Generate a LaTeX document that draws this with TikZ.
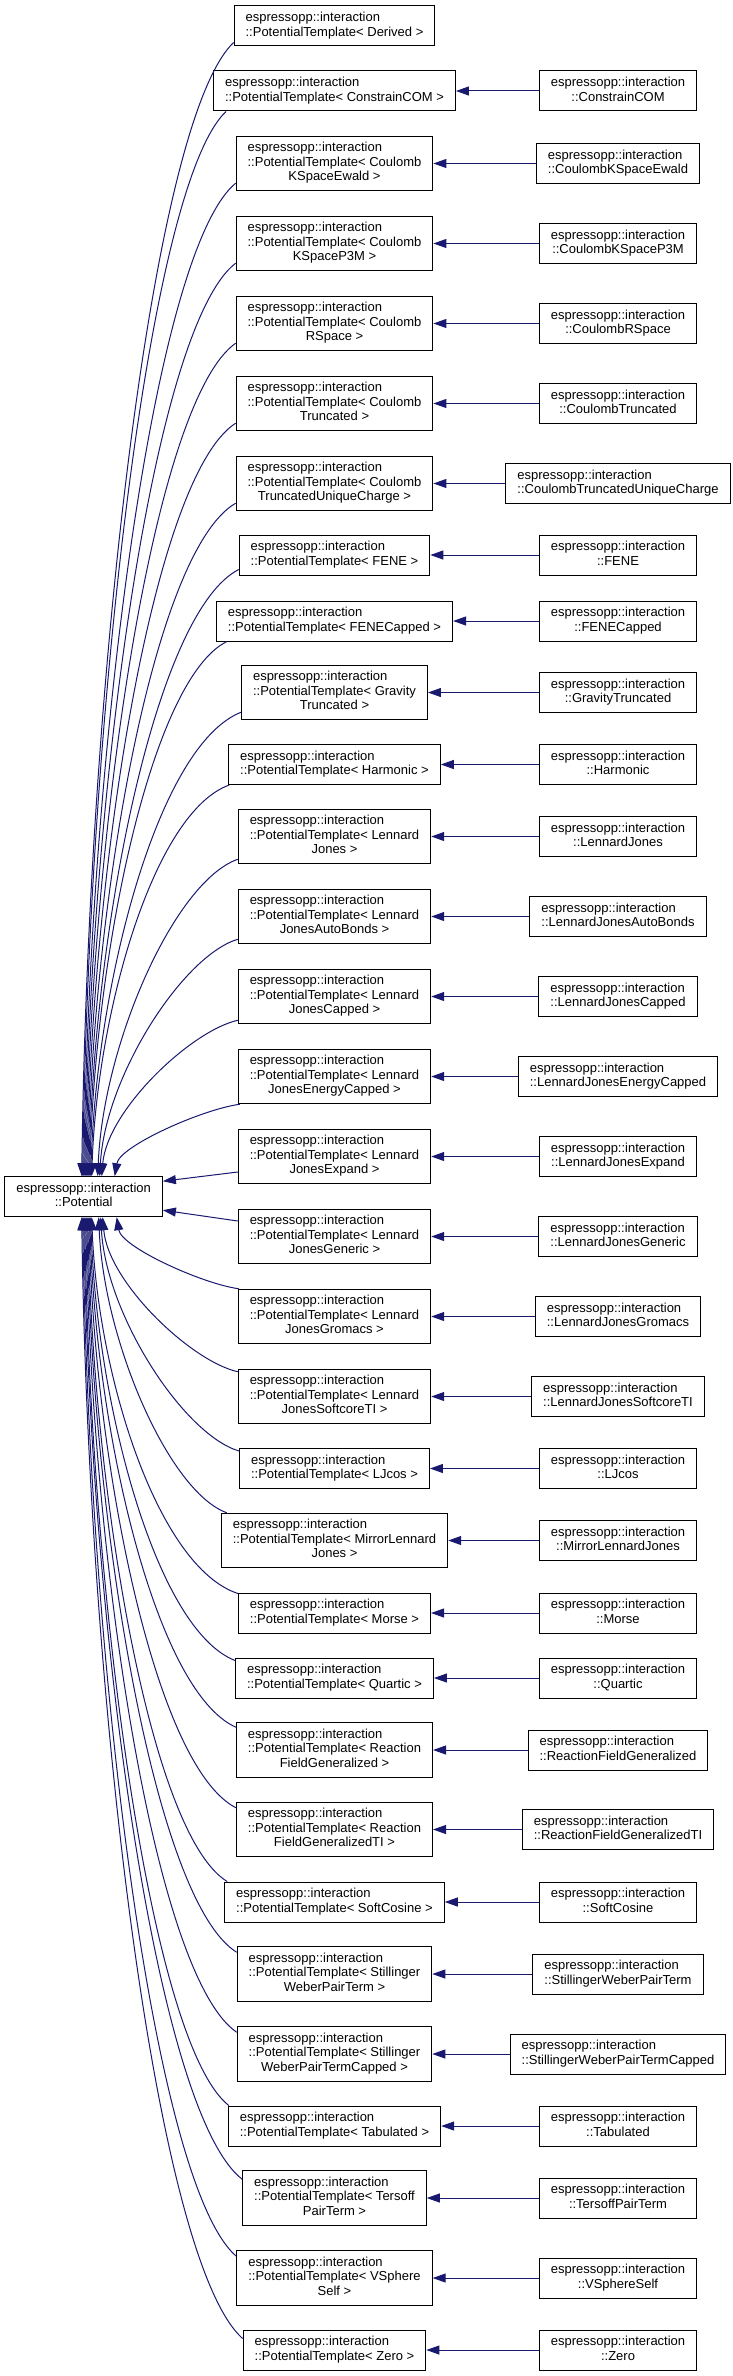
\documentclass[tikz,border=0pt]{standalone}
\usepackage{fontspec}
\setmainfont{Liberation Sans}
\usetikzlibrary{arrows.meta, calc}
\definecolor{edgec}{HTML}{191970}
\newcommand{\lastc}[1]{\multicolumn{1}{@{}c@{}}{#1}}
\newcommand{\tpl}[2]{\begin{tabular}{@{}l@{}}espressopp::interaction\\::PotentialTemplate< #1\\\lastc{#2 >}\end{tabular}}
\newcommand{\tpll}[1]{\begin{tabular}{@{}l@{}}espressopp::interaction\\::PotentialTemplate< #1 >\end{tabular}}
\newcommand{\clsname}[1]{\begin{tabular}{@{}l@{}}espressopp::interaction\\\lastc{::#1}\end{tabular}}
% curved inheritance edge: #2 start on the template box, #3 tip on the base box
\newcommand{\inh}[3][0.55]{\draw[inh] let \p1=(#2), \p2=(#3) in (\p1) .. controls ({\x1+#1*(\x2-\x1)},{\y1+0.07*(\y2-\y1)}) and ({\x2+0.04*(\x1-\x2)},{\y2+0.42*(\y1-\y2)}) .. (\p2);}

\begin{document}
\begin{tikzpicture}[x=1pt, y=-1pt,
    box/.style={draw=black, line width=1pt, fill=white, inner xsep=11.5pt, inner ysep=5.5pt,
      font=\fontsize{13}{14.5}\selectfont},
    inh/.style={draw=edgec, line width=1pt, -{Triangle[length=13pt, width=9pt]}}]
  \fill[white, use as bounding box] (0,0) rectangle (733,2376);
  \coordinate (rcol) at (618,0);

  % base class
  \node[box] (pot) at (83.7,1196.7) {\clsname{Potential}};

  % template instances
  \node[box] (tDerived) at (334.5,26) {\tpll{Derived}};
  \node[box] (tConstrainCOM) at (334.5,91) {\tpll{ConstrainCOM}};
  \node[box] (tCoulombKSpaceEwald) at (334.5,163.5) {\tpl{Coulomb}{KSpaceEwald}};
  \node[box] (tCoulombKSpaceP3M) at (334.5,243.5) {\tpl{Coulomb}{KSpaceP3M}};
  \node[box] (tCoulombRSpace) at (334.5,323.5) {\tpl{Coulomb}{RSpace}};
  \node[box] (tCoulombTruncated) at (334.5,403.5) {\tpl{Coulomb}{Truncated}};
  \node[box] (tCoulombTruncatedUniqueCharge) at (334.5,483.5) {\tpl{Coulomb}{TruncatedUniqueCharge}};
  \node[box] (tFENE) at (334.5,555) {\tpll{FENE}};
  \node[box] (tFENECapped) at (334.5,621) {\tpll{FENECapped}};
  \node[box] (tGravityTruncated) at (334.5,692.5) {\tpl{Gravity}{Truncated}};
  \node[box] (tHarmonic) at (334.5,764.5) {\tpll{Harmonic}};
  \node[box] (tLennardJones) at (334.5,836.5) {\tpl{Lennard}{Jones}};
  \node[box] (tLennardJonesAutoBonds) at (334.5,916.5) {\tpl{Lennard}{JonesAutoBonds}};
  \node[box] (tLennardJonesCapped) at (334.5,996.5) {\tpl{Lennard}{JonesCapped}};
  \node[box] (tLennardJonesEnergyCapped) at (334.5,1076.5) {\tpl{Lennard}{JonesEnergyCapped}};
  \node[box] (tLennardJonesExpand) at (334.5,1156.5) {\tpl{Lennard}{JonesExpand}};
  \node[box] (tLennardJonesGeneric) at (334.5,1236.5) {\tpl{Lennard}{JonesGeneric}};
  \node[box] (tLennardJonesGromacs) at (334.5,1316.5) {\tpl{Lennard}{JonesGromacs}};
  \node[box] (tLennardJonesSoftcoreTI) at (334.5,1396.5) {\tpl{Lennard}{JonesSoftcoreTI}};
  \node[box] (tLJcos) at (334.5,1468.5) {\tpll{LJcos}};
  \node[box] (tMirrorLennardJones) at (334.5,1540.5) {\tpl{MirrorLennard}{Jones}};
  \node[box] (tMorse) at (334.5,1613) {\tpll{Morse}};
  \node[box] (tQuartic) at (334.5,1678) {\tpll{Quartic}};
  \node[box] (tReactionFieldGeneralized) at (334.5,1750) {\tpl{Reaction}{FieldGeneralized}};
  \node[box] (tReactionFieldGeneralizedTI) at (334.5,1829.5) {\tpl{Reaction}{FieldGeneralizedTI}};
  \node[box] (tSoftCosine) at (334.5,1902) {\tpll{SoftCosine}};
  \node[box] (tStillingerWeberPairTerm) at (334.5,1974) {\tpl{Stillinger}{WeberPairTerm}};
  \node[box] (tStillingerWeberPairTermCapped) at (334.5,2054) {\tpl{Stillinger}{WeberPairTermCapped}};
  \node[box] (tTabulated) at (334.5,2126) {\tpll{Tabulated}};
  \node[box] (tTersoffPairTerm) at (334.5,2198) {\tpl{Tersoff}{PairTerm}};
  \node[box] (tVSphereSelf) at (334.5,2278) {\tpl{VSphere}{Self}};
  \node[box] (tZero) at (334.5,2350) {\tpll{Zero}};

  % concrete classes, one per template row
  \foreach \n in {ConstrainCOM,CoulombKSpaceEwald,CoulombKSpaceP3M,CoulombRSpace,%
      CoulombTruncated,CoulombTruncatedUniqueCharge,FENE,FENECapped,GravityTruncated,%
      Harmonic,LennardJones,LennardJonesAutoBonds,LennardJonesCapped,%
      LennardJonesEnergyCapped,LennardJonesExpand,LennardJonesGeneric,%
      LennardJonesGromacs,LennardJonesSoftcoreTI,LJcos,MirrorLennardJones,Morse,%
      Quartic,ReactionFieldGeneralized,ReactionFieldGeneralizedTI,SoftCosine,%
      StillingerWeberPairTerm,StillingerWeberPairTermCapped,Tabulated,%
      TersoffPairTerm,VSphereSelf,Zero}{
    \node[box] (r\n) at (t\n -| rcol) {\clsname{\n}};
    \draw[inh] (r\n) -- (t\n);
  }

  % templates above the base
  \inh{[yshift=4pt]tDerived.south west}{[xshift=-2pt]pot.north}
  \inh{[xshift=13pt]tConstrainCOM.south west}{[xshift=-1pt]pot.north}
  \inh{[yshift=8pt]tCoulombKSpaceEwald.south west}{pot.north}
  \inh{[yshift=8pt]tCoulombKSpaceP3M.south west}{[xshift=1pt]pot.north}
  \inh{[yshift=8pt]tCoulombRSpace.south west}{[xshift=2pt]pot.north}
  \inh{[yshift=8pt]tCoulombTruncated.south west}{[xshift=3pt]pot.north}
  \inh{[yshift=8pt]tCoulombTruncatedUniqueCharge.south west}{[xshift=4pt]pot.north}
  \inh{[yshift=6pt]tFENE.south west}{[xshift=5pt]pot.north}
  \inh{[xshift=11pt]tFENECapped.south west}{[xshift=6pt]pot.north}
  \inh{[yshift=8pt]tGravityTruncated.south west}{[xshift=7pt]pot.north}
  \inh{[xshift=1pt]tHarmonic.south west}{[xshift=8pt]pot.north}
  \inh[0.45]{[yshift=5pt]tLennardJones.south west}{[xshift=14pt]pot.north}
  \inh[0.4]{[yshift=5pt]tLennardJonesAutoBonds.south west}{[xshift=16pt]pot.north}
  \inh[0.35]{[yshift=4pt]tLennardJonesCapped.south west}{[xshift=18pt]pot.north}
  \inh[0.3]{[xshift=2pt]tLennardJonesEnergyCapped.south west}{[xshift=31pt]pot.north}
  \draw[inh] ([yshift=-15.5pt]tLennardJonesExpand.west) -- ([yshift=15.5pt]pot.east);
  \draw[inh] ([yshift=15.5pt]tLennardJonesGeneric.west) -- ([yshift=-13.5pt]pot.east);
  % templates below the base
  \inh[0.3]{[xshift=1pt]tLennardJonesGromacs.north west}{[xshift=33pt]pot.south}
  \inh[0.35]{[yshift=-3pt]tLennardJonesSoftcoreTI.north west}{[xshift=19pt]pot.south}
  \inh[0.4]{[yshift=-3pt]tLJcos.north west}{[xshift=17pt]pot.south}
  \inh[0.45]{[xshift=6pt]tMirrorLennardJones.north west}{[xshift=15pt]pot.south}
  \inh{[yshift=-1pt]tMorse.north west}{[xshift=8pt]pot.south}
  \inh{[yshift=-3pt]tQuartic.north west}{[xshift=7pt]pot.south}
  \inh{[yshift=-5pt]tReactionFieldGeneralized.north west}{[xshift=6pt]pot.south}
  \inh{[yshift=-6pt]tReactionFieldGeneralizedTI.north west}{[xshift=5pt]pot.south}
  \inh{[xshift=3pt]tSoftCosine.north west}{[xshift=4pt]pot.south}
  \inh{[yshift=-6pt]tStillingerWeberPairTerm.north west}{[xshift=3pt]pot.south}
  \inh{[yshift=-6pt]tStillingerWeberPairTermCapped.north west}{[xshift=2pt]pot.south}
  \inh{[xshift=1pt]tTabulated.north west}{[xshift=1pt]pot.south}
  \inh{[yshift=-9pt]tTersoffPairTerm.north west}{pot.south}
  \inh{[yshift=-6pt]tVSphereSelf.north west}{[xshift=-1pt]pot.south}
  \inh{[yshift=-9pt]tZero.north west}{[xshift=-2pt]pot.south}
\end{tikzpicture}
\end{document}
